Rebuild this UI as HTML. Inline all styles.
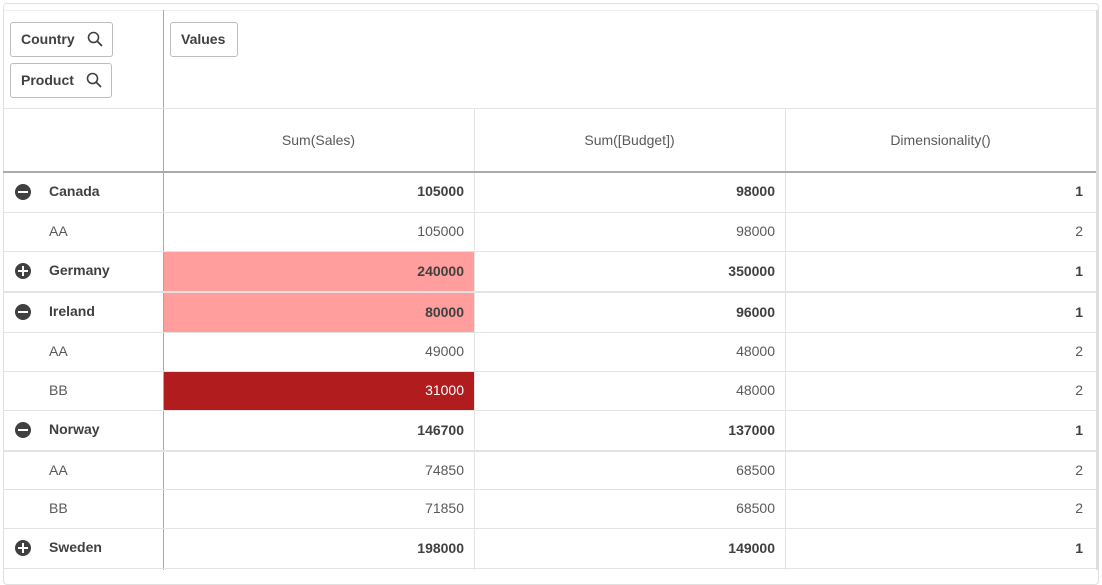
<!DOCTYPE html>
<html><head><style>
body{margin:0;width:1102px;height:575px;background:#fff;font-family:"Liberation Sans",sans-serif;color:#595959;overflow:hidden;position:relative}
.frame{position:absolute;left:3px;top:3px;width:1094px;height:580px;border:1px solid #e0e0e0;border-radius:4px}
.abs{position:absolute}
.pill{position:absolute;border:1px solid #bdbdbd;border-radius:3px;font-size:14px;font-weight:bold;color:#404040;height:35px;line-height:33px;padding:0 10px;box-sizing:border-box}
.hl{position:absolute;left:3px;width:1093px;height:1px;background:#e3e3e3}
.vl{position:absolute;width:1px;background:#e3e3e3}
.cell{position:absolute;font-size:14px;height:39px;line-height:39px;text-align:right}
.b{font-weight:bold;color:#404040}
.lab{position:absolute;left:49px;font-size:14px;height:39px;line-height:39px}
.ic{position:absolute;left:15px;width:16px;height:16px;border-radius:50%;background:#404040}
.ic:before{content:"";position:absolute;left:3px;top:7px;width:10px;height:2px;background:#fff}
.plus:after{content:"";position:absolute;left:7px;top:3px;width:2px;height:10px;background:#fff}
</style></head><body>
<div class="frame"></div>
<div class="abs" style="left:3px;top:10px;width:1093px;height:1px;background:#ededed"></div>
<div class="abs" style="left:163px;top:10px;width:1px;height:560px;background:#aaa"></div>
<div class="abs" style="left:1096px;top:10px;width:2px;height:560px;background:#ddd"></div>
<div class="pill" style="left:10px;top:22px;width:103px">Country <svg width="16" height="16" style="position:absolute;right:9px;top:8px"><circle cx="6.5" cy="6.5" r="5" fill="none" stroke="#404040" stroke-width="1.6"/><line x1="10" y1="10" x2="15" y2="15" stroke="#404040" stroke-width="1.8"/></svg></div>
<div class="pill" style="left:10px;top:63px;width:102px">Product <svg width="16" height="16" style="position:absolute;right:9px;top:8px"><circle cx="6.5" cy="6.5" r="5" fill="none" stroke="#404040" stroke-width="1.6"/><line x1="10" y1="10" x2="15" y2="15" stroke="#404040" stroke-width="1.8"/></svg></div>
<div class="pill" style="left:170px;top:22px;width:68px">Values</div>
<div class="abs" style="left:3px;top:108px;width:1093px;height:1px;background:#e3e3e3"></div>
<div class="abs" style="left:163px;top:120px;width:311px;text-align:center;font-size:14px;line-height:40px">Sum(Sales)</div>
<div class="abs" style="left:474px;top:120px;width:311px;text-align:center;font-size:14px;line-height:40px">Sum([Budget])</div>
<div class="abs" style="left:785px;top:120px;width:311px;text-align:center;font-size:14px;line-height:40px">Dimensionality()</div>
<div class="vl" style="left:474px;top:108px;height:462px"></div>
<div class="vl" style="left:785px;top:108px;height:462px"></div>
<div class="abs" style="left:3px;top:171px;width:1093px;height:2px;background:#aaa"></div>
<div class="abs" style="left:164px;top:252px;width:310px;height:80px;background:#ff9e9c"></div>
<div class="abs" style="left:164px;top:372px;width:310px;height:38px;background:#b11c1e"></div>
<div class="hl" style="top:212px"></div>
<div class="hl" style="top:251px"></div>
<div class="hl" style="top:291px;height:2px"></div>
<div class="hl" style="top:332px"></div>
<div class="hl" style="top:371px"></div>
<div class="hl" style="top:410px"></div>
<div class="hl" style="top:450px;height:2px"></div>
<div class="hl" style="top:489px"></div>
<div class="hl" style="top:528px"></div>
<div class="hl" style="top:568px"></div>
<div class="ic" style="top:184px"></div><div class="lab b" style="top:172px">Canada</div>
<div class="cell b" style="top:172px;left:164px;width:300px">105000</div><div class="cell b" style="top:172px;left:475px;width:300px">98000</div><div class="cell b" style="top:172px;left:786px;width:297px">1</div>
<div class="lab" style="top:212px">AA</div>
<div class="cell" style="top:212px;left:164px;width:300px">105000</div><div class="cell" style="top:212px;left:475px;width:300px">98000</div><div class="cell" style="top:212px;left:786px;width:297px">2</div>
<div class="ic plus" style="top:263px"></div><div class="lab b" style="top:251px">Germany</div>
<div class="cell b" style="top:252px;left:164px;width:300px">240000</div><div class="cell b" style="top:252px;left:475px;width:300px">350000</div><div class="cell b" style="top:252px;left:786px;width:297px">1</div>
<div class="ic" style="top:304px"></div><div class="lab b" style="top:292px">Ireland</div>
<div class="cell b" style="top:293px;left:164px;width:300px">80000</div><div class="cell b" style="top:293px;left:475px;width:300px">96000</div><div class="cell b" style="top:293px;left:786px;width:297px">1</div>
<div class="lab" style="top:332px">AA</div>
<div class="cell" style="top:332px;left:164px;width:300px">49000</div><div class="cell" style="top:332px;left:475px;width:300px">48000</div><div class="cell" style="top:332px;left:786px;width:297px">2</div>
<div class="lab" style="top:371px">BB</div>
<div class="cell" style="top:371px;left:164px;width:300px;color:#fff">31000</div><div class="cell" style="top:371px;left:475px;width:300px">48000</div><div class="cell" style="top:371px;left:786px;width:297px">2</div>
<div class="ic" style="top:422px"></div><div class="lab b" style="top:410px">Norway</div>
<div class="cell b" style="top:411px;left:164px;width:300px">146700</div><div class="cell b" style="top:411px;left:475px;width:300px">137000</div><div class="cell b" style="top:411px;left:786px;width:297px">1</div>
<div class="lab" style="top:451px">AA</div>
<div class="cell" style="top:451px;left:164px;width:300px">74850</div><div class="cell" style="top:451px;left:475px;width:300px">68500</div><div class="cell" style="top:451px;left:786px;width:297px">2</div>
<div class="lab" style="top:489px">BB</div>
<div class="cell" style="top:489px;left:164px;width:300px">71850</div><div class="cell" style="top:489px;left:475px;width:300px">68500</div><div class="cell" style="top:489px;left:786px;width:297px">2</div>
<div class="ic plus" style="top:540px"></div><div class="lab b" style="top:528px">Sweden</div>
<div class="cell b" style="top:529px;left:164px;width:300px">198000</div><div class="cell b" style="top:529px;left:475px;width:300px">149000</div><div class="cell b" style="top:529px;left:786px;width:297px">1</div>
</body></html>
